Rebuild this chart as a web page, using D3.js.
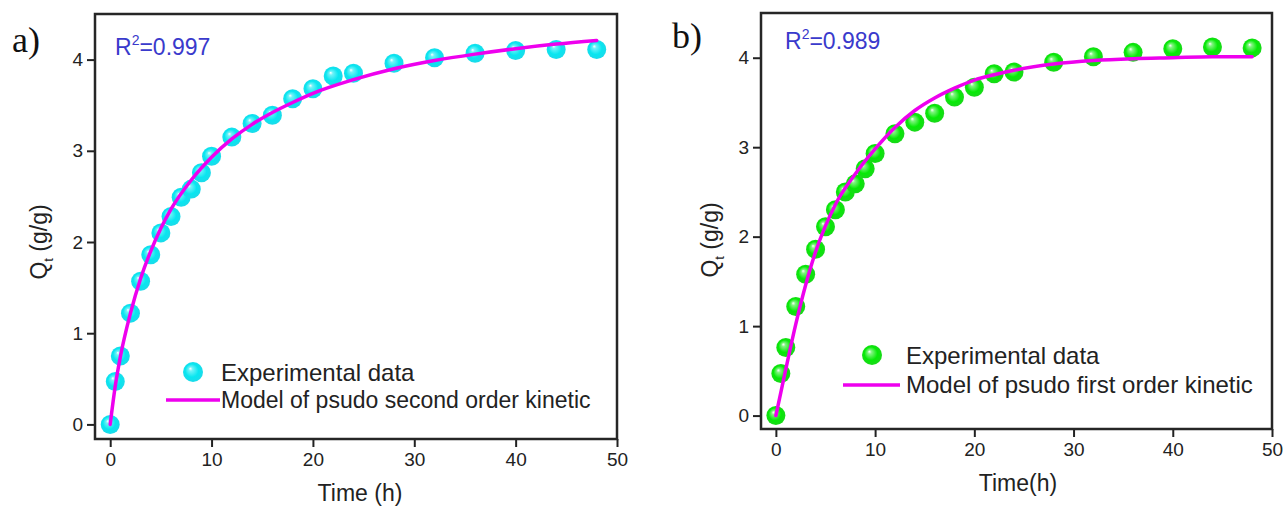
<!DOCTYPE html>
<html>
<head>
<meta charset="utf-8">
<script src="https://cdn.jsdelivr.net/npm/d3@7"></script>
<style>
  html, body { margin: 0; padding: 0; background: #ffffff; }
  svg { display: block; }
  text { font-family: Arial, "Liberation Sans", sans-serif; }
</style>
</head>
<body>
<svg id="chart" width="1287" height="515"></svg>
<script>
// Adsorption time (h) for the experimental series
const time = [0, 0.5, 1, 2, 3, 4, 5, 6, 7, 8, 9, 10, 12, 14, 16, 18, 20, 22, 24, 28, 32, 36, 40, 44, 48];

// Measured uptake Qt (g/g), panel a and panel b
const qtA = [0, 0.47, 0.75, 1.22, 1.57, 1.86, 2.10, 2.28, 2.49, 2.58, 2.76, 2.94, 3.15, 3.30, 3.39, 3.57, 3.68, 3.82, 3.85, 3.96, 4.02, 4.07, 4.10, 4.11, 4.11];
const qtB = [0, 0.47, 0.76, 1.22, 1.58, 1.86, 2.11, 2.30, 2.50, 2.59, 2.76, 2.93, 3.15, 3.28, 3.38, 3.56, 3.67, 3.82, 3.84, 3.95, 4.01, 4.06, 4.10, 4.12, 4.11];

// Fitted model curves
const modelTimeA = [0, 0.5, 1, 2, 3, 4, 5, 6, 8, 10, 12, 14, 16, 18, 20, 24, 28, 32, 36, 40, 44, 48];
const modelA     = [0, 0.42, 0.74, 1.22, 1.60, 1.90, 2.15, 2.36, 2.68, 2.93, 3.13, 3.29, 3.42, 3.53, 3.63, 3.78, 3.90, 3.99, 4.06, 4.12, 4.17, 4.21];
const modelTimeB = [0, 1, 2, 3, 4, 5, 6, 8, 10, 12, 14, 16, 18, 20, 22, 24, 28, 32, 36, 40, 44, 48];
const modelB     = [0, 0.52, 1.02, 1.46, 1.83, 2.12, 2.36, 2.70, 2.98, 3.22, 3.41, 3.55, 3.66, 3.75, 3.81, 3.86, 3.93, 3.97, 3.99, 4.00, 4.01, 4.01];

// Axis ticks
const xTicks = [0, 10, 20, 30, 40, 50];
const yTicks = [0, 1, 2, 3, 4];

const svg = d3.select("#chart");
const defs = svg.append("defs");

// Shaded sphere markers
function sphereGradient(id, light, mid, dark) {
  const g = defs.append("radialGradient")
    .attr("id", id).attr("cx", "50%").attr("cy", "50%").attr("r", "55%")
    .attr("fx", "36%").attr("fy", "32%");
  g.append("stop").attr("offset", "0%").attr("stop-color", "#ffffff");
  g.append("stop").attr("offset", "18%").attr("stop-color", light);
  g.append("stop").attr("offset", "60%").attr("stop-color", mid);
  g.append("stop").attr("offset", "100%").attr("stop-color", dark);
}
sphereGradient("ballCyan", "#6ff2f8", "#08e6f0", "#20d8e8");
sphereGradient("ballGreen", "#80f480", "#06ea06", "#1ed41e");

const panels = [
  {
    label: "a)", labelX: 12, labelY: 52,
    x0: 95, x1: 617, y0: 439, y1: 14, yMin: -0.16,
    q: qtA, mt: modelTimeA, mq: modelA,
    r2: "0.997", r2X: 115, r2Y: 55,
    ball: "ballCyan",
    xTitle: "Time (h)", xTitleX: 360, xTitleY: 501,
    yTitleX: 47, yTitleY: 242,
    legMarkX: 193, legMarkY: 372, legLineX0: 166, legLineX1: 220, legLineY: 400,
    legTextX: 221, legText1Y: 381, legText2Y: 408, legFont2: 23,
    model: "Model of psudo second order kinetic"
  },
  {
    label: "b)", labelX: 672, labelY: 48,
    x0: 761, x1: 1272, y0: 429, y1: 13, yMin: -0.15,
    q: qtB, mt: modelTimeB, mq: modelB,
    r2: "0.989", r2X: 785, r2Y: 49,
    ball: "ballGreen",
    xTitle: "Time(h)", xTitleX: 1018, xTitleY: 491,
    yTitleX: 718, yTitleY: 240,
    legMarkX: 872, legMarkY: 355, legLineX0: 843, legLineX1: 900, legLineY: 385,
    legTextX: 906, legText1Y: 364, legText2Y: 393, legFont2: 24,
    model: "Model of psudo first order kinetic"
  }
];

panels.forEach(p => {
  const x = d3.scaleLinear().domain([-1.5, 50]).range([p.x0, p.x1]);
  const y = d3.scaleLinear().domain([p.yMin, 4.5]).range([p.y0, p.y1]);
  const g = svg.append("g");

  // Bottom axis
  const xa = g.append("g").attr("transform", `translate(0,${p.y0})`)
    .call(d3.axisBottom(x).tickValues(xTicks).tickFormat(d3.format("d"))
      .tickSize(8).tickSizeOuter(0).tickPadding(6));
  // Left axis
  const ya = g.append("g").attr("transform", `translate(${p.x0},0)`)
    .call(d3.axisLeft(y).tickValues(yTicks).tickFormat(d3.format("d"))
      .tickSize(8).tickSizeOuter(0).tickPadding(4));
  [xa, ya].forEach(a => {
    a.select(".domain").remove();
    a.selectAll(".tick line").attr("stroke", "#222").attr("stroke-width", 2);
    a.selectAll(".tick text").attr("fill", "#222").style("font-size", "19px")
      .style("font-family", "Arial, 'Liberation Sans', sans-serif");
  });

  // Plot frame
  g.append("rect")
    .attr("x", p.x0).attr("y", p.y1)
    .attr("width", p.x1 - p.x0).attr("height", p.y0 - p.y1)
    .attr("fill", "none").attr("stroke", "#262626").attr("stroke-width", 2.5);

  // Model curve
  const line = d3.line().x(d => x(d[0])).y(d => y(d[1])).curve(d3.curveMonotoneX);
  const curve = p.mt.map((t, i) => [t, p.mq[i]]);

  // Experimental points
  g.selectAll("circle.pt").data(time.map((t, i) => [t, p.q[i]])).join("circle")
    .attr("class", "pt")
    .attr("cx", d => x(d[0])).attr("cy", d => y(d[1])).attr("r", 9.5)
    .attr("fill", `url(#${p.ball})`);

  // Curve drawn over the markers
  g.append("path")
    .datum(curve)
    .attr("d", line)
    .attr("fill", "none").attr("stroke", "#ee00ee").attr("stroke-width", 3.5)
    .attr("stroke-linecap", "round");

  // R² annotation
  const r = g.append("text").attr("x", p.r2X).attr("y", p.r2Y)
    .attr("fill", "#3a3acc").style("font-size", "23px");
  r.append("tspan").text("R");
  r.append("tspan").attr("dy", -10).style("font-size", "14px").text("2");
  r.append("tspan").attr("dy", 10).text("=" + p.r2);

  // Panel label
  g.append("text").attr("x", p.labelX).attr("y", p.labelY)
    .style("font-family", "'Liberation Serif', 'Times New Roman', serif")
    .style("font-size", "36px").attr("fill", "#111").text(p.label);

  // Axis titles
  g.append("text").attr("x", p.xTitleX).attr("y", p.xTitleY)
    .attr("text-anchor", "middle").attr("fill", "#222").style("font-size", "23px")
    .text(p.xTitle);
  const yt = g.append("text")
    .attr("transform", `translate(${p.yTitleX},${p.yTitleY}) rotate(-90)`)
    .attr("text-anchor", "middle").attr("fill", "#222").style("font-size", "23px");
  yt.append("tspan").text("Q");
  yt.append("tspan").attr("dy", 6).style("font-size", "13px").text("t");
  yt.append("tspan").attr("dy", -6).text(" (g/g)");

  // Legend
  g.append("circle").attr("cx", p.legMarkX).attr("cy", p.legMarkY).attr("r", 10)
    .attr("fill", `url(#${p.ball})`);
  g.append("text").attr("x", p.legTextX).attr("y", p.legText1Y)
    .attr("fill", "#222").style("font-size", "24px").text("Experimental data");
  g.append("line").attr("x1", p.legLineX0).attr("x2", p.legLineX1)
    .attr("y1", p.legLineY).attr("y2", p.legLineY)
    .attr("stroke", "#ee00ee").attr("stroke-width", 3.5);
  g.append("text").attr("x", p.legTextX).attr("y", p.legText2Y)
    .attr("fill", "#222").style("font-size", p.legFont2 + "px").text(p.model);
});
</script>
</body>
</html>
